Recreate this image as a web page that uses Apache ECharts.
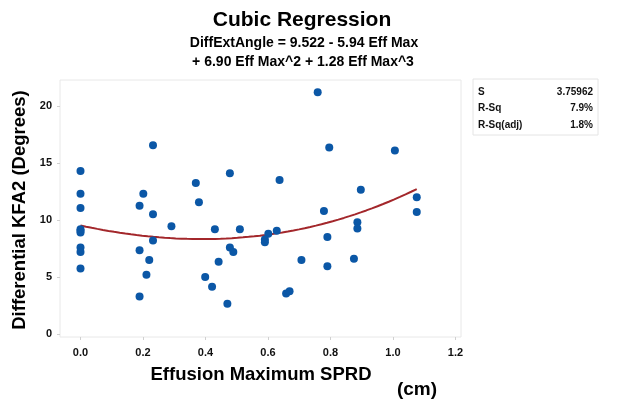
<!DOCTYPE html>
<html>
<head>
<meta charset="utf-8">
<script src="https://cdn.jsdelivr.net/npm/echarts@6/dist/echarts.min.js"></script>
<style>
  html, body { margin: 0; padding: 0; background: #fff; }
  #chart { width: 636px; height: 401px; }
</style>
</head>
<body>
<div id="chart"></div>
<script>
// Observations: effusion maximum SPRD (cm) vs differential KFA2 (degrees)
const effMax = [
  0.0, 0.0, 0.0, 0.0, 0.0, 0.0, 0.0, 0.0, 0.0,
  0.232, 0.201, 0.189, 0.232, 0.232, 0.189, 0.220, 0.211, 0.189,
  0.291, 0.369, 0.379, 0.430, 0.442, 0.399, 0.421, 0.470, 0.478, 0.478, 0.489, 0.510,
  0.759, 0.796, 1.006, 0.637, 0.897, 1.076, 1.076, 0.779, 0.886, 0.886,
  0.628, 0.601, 0.590, 0.590, 0.790, 0.707, 0.875, 0.790, 0.658, 0.669
];
const diffKFA2 = [
  14.3, 12.3, 11.05, 9.2, 9.05, 8.9, 7.6, 7.2, 5.75,
  16.55, 12.3, 11.25, 10.5, 8.2, 7.35, 6.5, 5.2, 3.3,
  9.45, 13.25, 11.55, 9.2, 6.35, 5.0, 4.15, 2.65, 14.1, 7.6, 7.2, 9.2,
  21.2, 16.35, 16.1, 13.5, 12.65, 12.0, 10.7, 10.8, 9.8, 9.25,
  9.05, 8.8, 8.3, 8.05, 8.5, 6.5, 6.6, 5.95, 3.55, 3.75
];

// Fitted cubic: b0 + b1*x + b2*x^2 + b3*x^3 (as printed in the subtitle)
const coefs = [9.522, -5.94, 6.90, 1.28];
const fitRange = [0.0, 1.076];

const xTicks = [0.0, 0.2, 0.4, 0.6, 0.8, 1.0, 1.2];
const yTicks = [0, 5, 10, 15, 20];

const titleText = 'Cubic Regression';
const subLines = ['DiffExtAngle = 9.522 - 5.94 Eff Max', '+ 6.90 Eff Max^2 + 1.28 Eff Max^3'];
const statRows = [['S', '3.75962'], ['R-Sq', '7.9%'], ['R-Sq(adj)', '1.8%']];

const points = effMax.map((x, i) => [x, diffKFA2[i]]);
const fitLine = [];
for (let k = 0; k <= 60; k++) {
  const x = fitRange[0] + (fitRange[1] - fitRange[0]) * k / 60;
  fitLine.push([x, coefs[0] + coefs[1] * x + coefs[2] * x * x + coefs[3] * x * x * x]);
}

const FONT = '"Liberation Sans", Arial, sans-serif';
const chart = echarts.init(document.getElementById('chart'), null, { renderer: 'canvas' });

const statGroup = [{
  type: 'rect',
  shape: { x: 473, y: 79, width: 125, height: 56 },
  style: { fill: '#fff', stroke: '#e4e4e4', lineWidth: 1 }
}];
statRows.forEach((r, i) => {
  const y = 92 + i * 16.5;
  statGroup.push({ type: 'text', x: 478, y: y, style: { text: r[0], font: 'bold 10px ' + FONT, fill: '#111', align: 'left', verticalAlign: 'middle' } });
  statGroup.push({ type: 'text', x: 593, y: y, style: { text: r[1], font: 'bold 10px ' + FONT, fill: '#111', align: 'right', verticalAlign: 'middle' } });
});

chart.setOption({
  animation: false,
  backgroundColor: '#fff',
  grid: { left: 60, top: 80, width: 401, height: 257, show: true, borderColor: '#e8e8e8', borderWidth: 1 },
  xAxis: {
    type: 'value', min: -0.0656, max: 1.2176,
    axisLine: { show: false, onZero: false },
    splitLine: { show: false },
    axisTick: { show: true, customValues: xTicks, length: 3, lineStyle: { color: '#d0d0d0' } },
    axisLabel: {
      customValues: xTicks, margin: 10,
      formatter: v => v.toFixed(1),
      color: '#111', fontSize: 11, fontWeight: 'bold', fontFamily: FONT
    }
  },
  yAxis: {
    type: 'value', min: -0.26, max: 22.28,
    axisLine: { show: false, onZero: false },
    splitLine: { show: false },
    axisTick: { show: true, customValues: yTicks, length: 3, lineStyle: { color: '#d0d0d0' } },
    axisLabel: {
      customValues: yTicks, margin: 8,
      color: '#111', fontSize: 11, fontWeight: 'bold', fontFamily: FONT
    }
  },
  series: [
    {
      type: 'line', data: fitLine, showSymbol: false, smooth: false,
      lineStyle: { color: '#a3272b', width: 2 }, z: 2
    },
    {
      type: 'scatter', data: points, symbolSize: 8,
      itemStyle: { color: '#0b57a6', opacity: 1 }, z: 3
    }
  ],
  graphic: [
    { type: 'text', x: 302, y: 20, style: { text: titleText, font: 'bold 21px ' + FONT, fill: '#000', align: 'center', verticalAlign: 'middle' } },
    { type: 'text', x: 304, y: 43, style: { text: subLines[0], font: 'bold 14px ' + FONT, fill: '#000', align: 'center', verticalAlign: 'middle' } },
    { type: 'text', x: 303, y: 62, style: { text: subLines[1], font: 'bold 14px ' + FONT, fill: '#000', align: 'center', verticalAlign: 'middle' } },
    { type: 'text', x: 20, y: 210, rotation: Math.PI / 2, style: { text: 'Differential KFA2 (Degrees)', font: 'bold 18.5px ' + FONT, fill: '#000', align: 'center', verticalAlign: 'middle' } },
    { type: 'text', x: 261, y: 375, style: { text: 'Effusion Maximum SPRD', font: 'bold 18.5px ' + FONT, fill: '#000', align: 'center', verticalAlign: 'middle' } },
    { type: 'text', x: 417, y: 390, style: { text: '(cm)', font: 'bold 19px ' + FONT, fill: '#000', align: 'center', verticalAlign: 'middle' } },
    { type: 'group', children: statGroup }
  ]
});
</script>
</body>
</html>
